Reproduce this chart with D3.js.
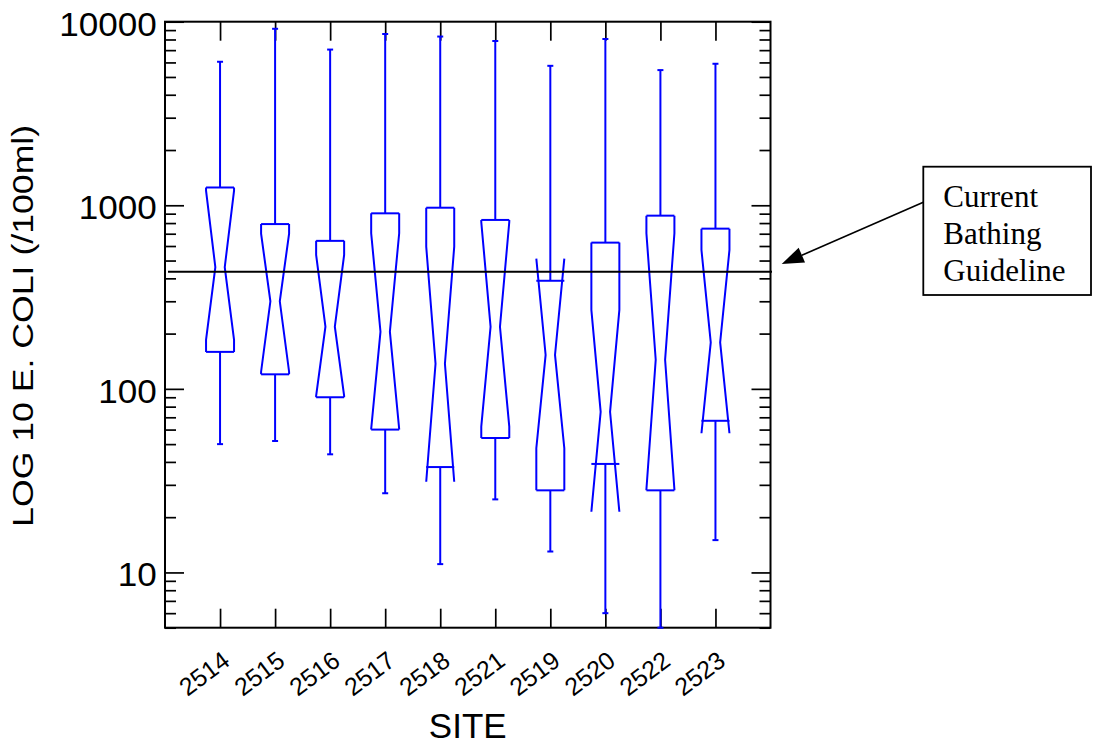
<!DOCTYPE html>
<html>
<head>
<meta charset="utf-8">
<script src="https://cdn.jsdelivr.net/npm/d3@7"></script>
<style>
  html, body { margin: 0; padding: 0; background: #fff; }
  svg { display: block; }
</style>
</head>
<body>
<svg id="chart" width="1093" height="749"></svg>
<script>
// ---- data ----
const sites       = ["2514","2515","2516","2517","2518","2521","2519","2520","2522","2523"];
const whiskerLow  = [50,   52,   44,   27,   11.1, 25,   13,   6,    5,    15];
const q1          = [159,  120,  90,   60,   37.5, 54,   28,   39,   28,   67];
const notchLow    = [185,  124,  91.5, 60.5, 31.2, 62.3, 47.5, 21.4, 28.3, 57.3];
const median      = [460,  300,  218,  205,  137,  218,  153,  75,   144,  179];
const notchHigh   = [1200, 700,  536,  704,  595,  811,  512,  269,  704,  571];
const q3          = [1250, 790,  640,  904,  970,  832,  388,  626,  878,  746];
const whiskerHigh = [6050, 9150, 7050, 8570, 8300, 7850, 5750, 8050, 5450, 5900];
const guideline   = 435;
const yTicks      = [10, 100, 1000, 10000];
const yMinorTicks = [5,6,7,8,9,20,30,40,50,60,70,80,90,200,300,400,500,600,700,800,900,2000,3000,4000,5000,6000,7000,8000,9000];
const yDomain     = [5, 10000];
const yTitle      = "LOG 10 E. COLI (/100ml)";
const xTitle      = "SITE";
const noteLines   = ["Current", "Bathing", "Guideline"];

// ---- layout ----
const plotL = 165, plotR = 770.5, plotT = 21.7, plotB = 627.7;
const BLUE = "#0000ff";
const SANS = "'Liberation Sans', Arial, Helvetica, sans-serif";
const SERIF = "'Liberation Serif', 'Times New Roman', Times, serif";

const svg = d3.select("#chart");
const x = d3.scalePoint().domain(sites).range([plotL, plotR]).padding(1);
const y = d3.scaleLog().domain(yDomain).range([plotB, plotT]);

// ---- axes (inward ticks) ----
function styleAxis(g) {
  g.select(".domain").remove();
  g.selectAll(".tick line").attr("stroke", "#000").attr("stroke-width", 1.7);
}
const gLeft = svg.append("g").attr("transform", `translate(${plotL},0)`)
  .call(d3.axisLeft(y).tickValues(yTicks).tickSize(-19).tickPadding(8.3).tickFormat(d3.format("d")))
  .call(styleAxis);
gLeft.selectAll(".tick text")
  .attr("font-family", SANS).attr("font-size", 32.5).attr("fill", "#000")
  .attr("dy", "0.41em")
  .attr("textLength", d => String(d).length * 19.5)
  .attr("lengthAdjust", "spacingAndGlyphs");
svg.append("g").attr("transform", `translate(${plotL},0)`)
  .call(d3.axisLeft(y).tickValues(yMinorTicks).tickSize(-11).tickFormat(""))
  .call(styleAxis);
svg.append("g").attr("transform", `translate(${plotR},0)`)
  .call(d3.axisRight(y).tickValues(yTicks).tickSize(-19).tickFormat(""))
  .call(styleAxis);
svg.append("g").attr("transform", `translate(${plotR},0)`)
  .call(d3.axisRight(y).tickValues(yMinorTicks).tickSize(-11).tickFormat(""))
  .call(styleAxis);
svg.append("g").attr("transform", `translate(0,${plotB})`)
  .call(d3.axisBottom(x).tickSize(-19).tickFormat(""))
  .call(styleAxis);
svg.append("g").attr("transform", `translate(0,${plotT})`)
  .call(d3.axisTop(x).tickSize(-19).tickFormat(""))
  .call(styleAxis);

// rotated category labels
svg.append("g").selectAll("text").data(sites).join("text")
  .attr("transform", d => `translate(${x(d) + 11.5},664) rotate(-37)`)
  .attr("text-anchor", "end")
  .attr("font-family", SANS).attr("font-size", 25).attr("fill", "#000")
  .attr("textLength", 55).attr("lengthAdjust", "spacingAndGlyphs")
  .text(d => d);

// frame
svg.append("rect")
  .attr("x", plotL).attr("y", plotT).attr("width", plotR - plotL).attr("height", plotB - plotT)
  .attr("fill", "none").attr("stroke", "#000").attr("stroke-width", 2);

// axis titles
svg.append("text")
  .attr("transform", `translate(33.3,325.9) rotate(-90)`)
  .attr("text-anchor", "middle")
  .attr("font-family", SANS).attr("font-size", 29.5).attr("fill", "#000")
  .attr("textLength", 402).attr("lengthAdjust", "spacingAndGlyphs")
  .text(yTitle);
svg.append("text")
  .attr("x", (plotL + plotR) / 2).attr("y", 738.3)
  .attr("text-anchor", "middle")
  .attr("font-family", SANS).attr("font-size", 35).attr("fill", "#000")
  .text(xTitle);

// ---- notched box plots ----
const hw = 14, nw = 4.7, cap = 3;
const boxes = sites.map((s, i) => ({
  s, lo: whiskerLow[i], q1: q1[i], nlo: notchLow[i], med: median[i],
  nhi: notchHigh[i], q3: q3[i], hi: whiskerHigh[i]
}));
const gb = svg.append("g").attr("stroke", BLUE).attr("stroke-width", 2).attr("fill", "none");
boxes.forEach(b => {
  const cx = x(b.s);
  const g = gb.append("g");
  g.append("line").attr("x1", cx).attr("x2", cx).attr("y1", y(b.q3)).attr("y2", y(b.hi));
  g.append("line").attr("x1", cx).attr("x2", cx).attr("y1", y(b.q1)).attr("y2", y(b.lo));
  g.append("line").attr("x1", cx - cap).attr("x2", cx + cap).attr("y1", y(b.hi)).attr("y2", y(b.hi));
  g.append("line").attr("x1", cx - cap).attr("x2", cx + cap).attr("y1", y(b.lo)).attr("y2", y(b.lo));
  g.append("line").attr("x1", cx - hw).attr("x2", cx + hw).attr("y1", y(b.q3)).attr("y2", y(b.q3));
  g.append("line").attr("x1", cx - hw).attr("x2", cx + hw).attr("y1", y(b.q1)).attr("y2", y(b.q1));
  [-1, 1].forEach(sgn => {
    const pts = [];
    if (b.nhi < b.q3) pts.push([cx + sgn * hw, y(b.q3)]);
    pts.push([cx + sgn * hw, y(b.nhi)]);
    pts.push([cx + sgn * nw, y(b.med)]);
    pts.push([cx + sgn * hw, y(b.nlo)]);
    if (b.nlo > b.q1) pts.push([cx + sgn * hw, y(b.q1)]);
    g.append("path").attr("d", d3.line()(pts)).attr("stroke-linejoin", "miter");
  });
});

// guideline
svg.append("line")
  .attr("x1", plotL + 3).attr("x2", plotR + 1.5)
  .attr("y1", y(guideline)).attr("y2", y(guideline))
  .attr("stroke", "#000").attr("stroke-width", 2);

// ---- annotation box and arrow ----
const bx = 923.3, by = 166.7, bw = 167.7, bh = 128.3;
svg.append("rect").attr("x", bx).attr("y", by).attr("width", bw).attr("height", bh)
  .attr("fill", "#fff").attr("stroke", "#000").attr("stroke-width", 1.8);
svg.append("g").selectAll("text").data(noteLines).join("text")
  .attr("x", 943.3).attr("y", (d, i) => 207.3 + i * 36.85)
  .attr("font-family", SERIF).attr("font-size", 31).attr("fill", "#000")
  .text(d => d);

const aStart = [bx, 202.3], aTip = [781.7, y(guideline) - 7.7];
const adx = aTip[0] - aStart[0], ady = aTip[1] - aStart[1];
const alen = Math.hypot(adx, ady), ux = adx / alen, uy = ady / alen;
const headL = 22, headW = 8;
const aBase = [aTip[0] - ux * headL, aTip[1] - uy * headL];
svg.append("line")
  .attr("x1", aStart[0]).attr("y1", aStart[1]).attr("x2", aBase[0]).attr("y2", aBase[1])
  .attr("stroke", "#000").attr("stroke-width", 1.6);
svg.append("path")
  .attr("d", d3.line()([aTip, [aBase[0] - uy * headW, aBase[1] + ux * headW], [aBase[0] + uy * headW, aBase[1] - ux * headW]]) + "Z")
  .attr("fill", "#000");
</script>
</body>
</html>
